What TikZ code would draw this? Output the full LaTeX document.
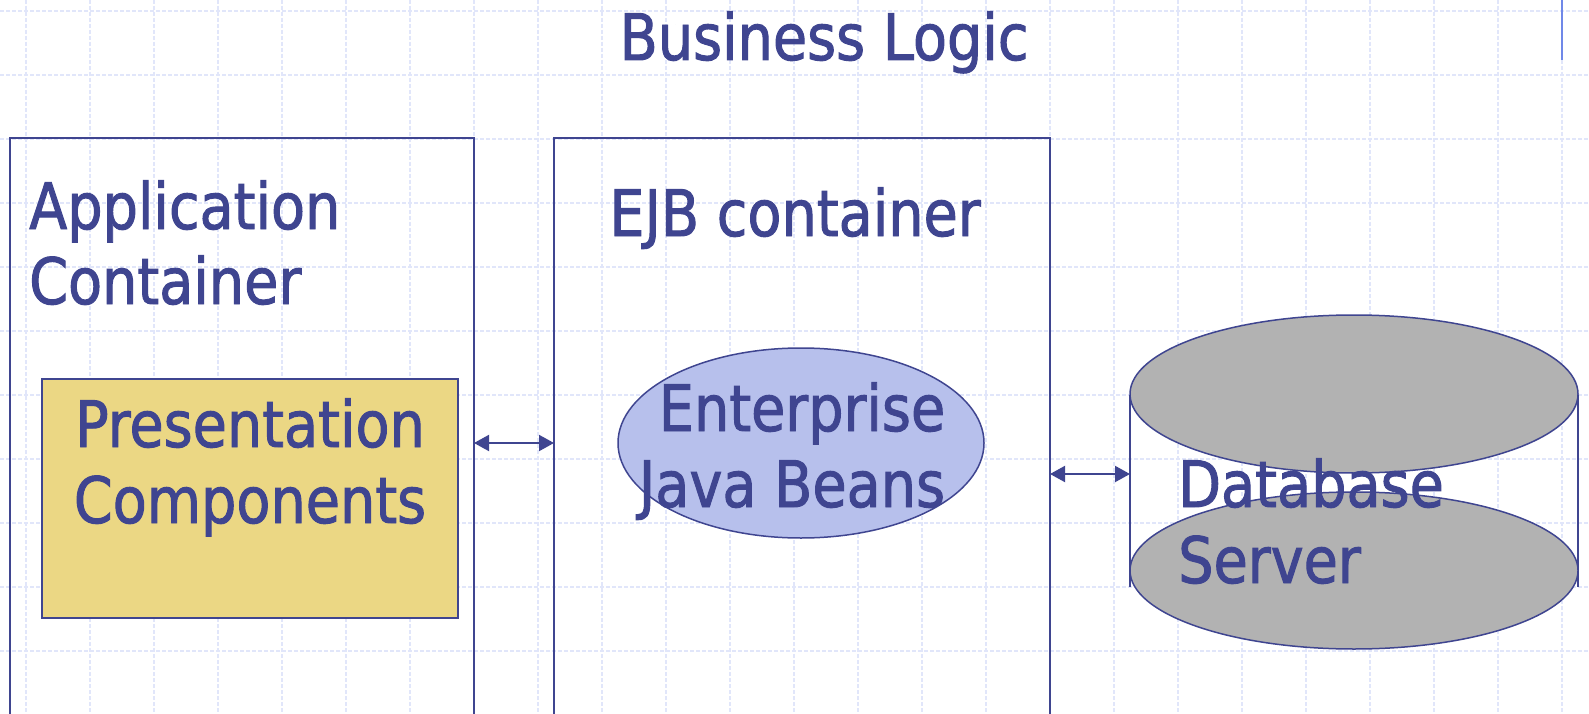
\documentclass[tikz,border=0pt]{standalone}
\usepackage{fontspec}
\setmainfont{DejaVu Sans}[FakeStretch=0.87,FakeBold=1.5]
\usetikzlibrary{arrows.meta,shapes.geometric}
\definecolor{ink}{HTML}{3F4590}
\definecolor{gridblue}{HTML}{E1E6FA}
\definecolor{accentblue}{HTML}{7088E8}
\definecolor{paneyellow}{HTML}{EBD784}
\definecolor{beanblue}{HTML}{B7C0EC}
\definecolor{diskgray}{HTML}{B2B2B2}
\tikzset{
  gridline/.style={draw=gridblue, line width=1.3pt, dash pattern=on 4pt off 2pt},
  container/.style={draw=ink, line width=2pt, rectangle, inner sep=0pt, outer sep=0pt},
  panel/.style={draw=ink, fill=paneyellow, line width=2pt, rectangle, inner sep=0pt, outer sep=0pt},
  bean/.style={draw=ink, fill=beanblue, line width=1.5pt, ellipse, inner sep=0pt, outer sep=0pt},
  disk/.style={draw=ink, fill=diskgray, line width=1.5pt, ellipse, inner sep=0pt, outer sep=0pt},
  lbl/.style={text=ink, inner sep=0pt, font=\fontsize{64}{76}\selectfont},
  link/.style={draw=ink, line width=2pt, {Triangle[length=15pt,width=16pt]}-{Triangle[length=15pt,width=16pt]}},
}
\begin{document}
\begin{tikzpicture}[x=1pt,y=-1pt]
\useasboundingbox (0,0) rectangle (1589,714);
\clip (0,0) rectangle (1589,714);
\fill[white] (0,0) rectangle (1589,714);

% background grid
\foreach \gx in {26,90,...,1589} \draw[gridline] (\gx,0) -- (\gx,714);
\foreach \gy in {11,75,...,714} \draw[gridline] (0,\gy) -- (1589,\gy);

% accent bar at the top right
\draw[draw=accentblue, line width=2pt] (1562,0) -- (1562,60);

% title
\node[lbl, anchor=base] (title) at (824,60) {Business Logic};

% application container
\node[container, minimum width=464pt, minimum height=640pt, anchor=north west] (app) at (10,138) {};
\node[lbl, anchor=base west] (app1) at (29,229) {Application};
\node[lbl, anchor=base west] (app2) at (29,304) {Container};
\node[panel, minimum width=416pt, minimum height=239pt, anchor=north west] (pres) at (42,379) {};
\node[lbl, anchor=base] (pres1) at (250,447) {Presentation};
\node[lbl, anchor=base] (pres2) at (250,523) {Components};

% EJB container
\node[container, minimum width=496pt, minimum height=640pt, anchor=north west] (ejb) at (554,138) {};
\node[lbl, anchor=base] (ejb1) at (795,236) {EJB container};
\node[bean, minimum width=366pt, minimum height=190pt] (beans) at (801,443) {};
\node[lbl, anchor=base] (beans1) at (802,431) {Enterprise};
\node[lbl, anchor=base] (beans2) at (792,507) {Java Beans};

% database server
\node[inner sep=0pt, outer sep=0pt, minimum width=448pt, minimum height=336pt] (db) at (1354,482) {};
\draw[draw=ink, line width=1.5pt] (db.west |- 0,395) -- (db.west |- 0,587);
\draw[draw=ink, line width=1.5pt] (db.east |- 0,395) -- (db.east |- 0,587);
\node[disk, minimum width=448pt, minimum height=158pt] (dbtop) at (1354,394) {};
\node[disk, minimum width=448pt, minimum height=157pt] (dbbot) at (1354,570.5) {};
\node[lbl, anchor=base west] (db1) at (1178,507) {Database};
\node[lbl, anchor=base west] (db2) at (1178,583) {Server};

% connectors
\draw[link] (app.east |- 0,443) -- (ejb.west |- 0,443);
\draw[link] (ejb.east |- 0,474) -- (db.west |- 0,474);
\end{tikzpicture}
\end{document}
